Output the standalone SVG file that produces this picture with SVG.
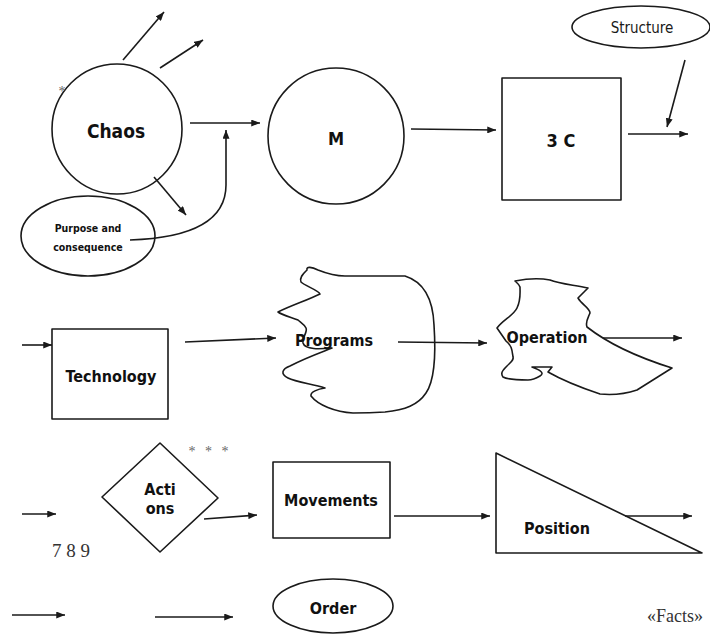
<svg xmlns="http://www.w3.org/2000/svg" width="710" height="634" viewBox="0 0 710 634">
<defs>
<marker id="ah" viewBox="0 0 10 8" refX="10" refY="4" markerWidth="9" markerHeight="7" markerUnits="userSpaceOnUse" orient="auto">
<path d="M0,0 L10,4 L0,8 Z" fill="#1a1a1a"/>
</marker>
<style>
.s{fill:none;stroke:#1a1a1a;stroke-width:1.6;stroke-linejoin:round}
.c{fill:none;stroke:#1a1a1a;stroke-width:1.6;marker-end:url(#ah)}
.b{font-family:"DejaVu Sans Condensed","DejaVu Sans",sans-serif;font-stretch:condensed;font-weight:bold;fill:#111;text-anchor:middle;font-size:16px}
.r{font-family:"DejaVu Sans Condensed","DejaVu Sans",sans-serif;font-stretch:condensed;fill:#1a1a1a;text-anchor:middle;font-size:15px}
.sf{font-family:"Liberation Serif",serif;fill:#333}
.g{font-family:"Liberation Serif",serif;fill:#666;font-size:14px}
</style>
</defs>
<g id="connectors">
<path class="c" d="M123,60 L164,12"/>
<path class="c" d="M160,68 L203,40"/>
<path class="c" d="M190,123 L260,123"/>
<path class="c" d="M154,177 L186,215"/>
<path class="c" d="M130,240 C190,238 226,222 226,185 L226,130"/>
<path class="c" d="M411,129 L496,130"/>
<path class="c" d="M685,60 L667,127"/>
<path class="c" d="M628,134 L688,134"/>
<path class="c" d="M22,345 L52,345"/>
<path class="c" d="M185,342 L276,338"/>
<path class="c" d="M398,342 L487,343"/>
<path class="c" d="M603,338 L682,338"/>
<path class="c" d="M22,514 L56,514"/>
<path class="c" d="M204,519 L257,515"/>
<path class="c" d="M394,516 L490,516"/>
<path class="c" d="M625,516 L692,516"/>
<path class="c" d="M12,615 L65,615"/>
<path class="c" d="M155,617 L233,617"/>
</g>
<g id="chaos">
<circle class="s" cx="117" cy="129" r="65"/>
<text class="b" x="116" y="138" style="font-size:19px">Chaos</text>
<text class="g" x="62" y="96" text-anchor="middle">*</text>
</g>
<g id="purpose">
<ellipse class="s" cx="88" cy="236" rx="67" ry="40"/>
<text class="b" x="88" y="232" style="font-size:10.5px">Purpose and</text>
<text class="b" x="88" y="251" style="font-size:10.5px">consequence</text>
</g>
<g id="m">
<circle class="s" cx="336" cy="136" r="68"/>
<text class="b" x="336" y="145" style="font-size:18px">M</text>
</g>
<g id="c3">
<rect class="s" x="502" y="78" width="119" height="122"/>
<text class="b" x="561" y="147" style="font-size:18px">3 C</text>
</g>
<g id="structure">
<ellipse class="s" cx="641" cy="27" rx="69" ry="21"/>
<text class="r" x="642" y="33">Structure</text>
</g>
<g id="technology">
<rect class="s" x="52" y="329" width="116" height="90"/>
<text class="b" x="111" y="382">Technology</text>
</g>
<g id="programs">
<path class="s" d="M307,270 C306,266 312,267 318,270 C328,274 335,276 345,276 L405,276 C424,282 433,300 434,325 C436,355 435,380 426,393 C418,405 405,410 385,412 C370,413 360,413 353,413 C335,412 318,405 311,396 C310,392 318,389 325,388 C312,384 296,382 288,378 C280,374 282,369 290,366 C305,358 322,352 332,348 C320,349 305,350 303,343 C302,337 308,332 306,328 C304,324 300,322 298,320 C290,317 282,315 278,312 C292,305 308,300 320,294 C318,290 305,286 301,282 C299,277 304,273 307,270 Z"/>
<text class="b" x="334" y="346">Programs</text>
</g>
<g id="operation">
<path class="s" d="M515,281 C525,279 540,278 550,280 C560,284 575,285 588,288 L578,298 C582,305 590,308 590,313 C588,318 585,322 587,327 C610,345 640,358 672,368 L637,390 C625,394 610,395 600,394 C582,388 562,380 548,372 L552,367 L532,367 C540,370 545,373 540,376 C535,379 532,380 528,380 C518,380 508,380 503,377 C500,373 503,370 507,366 C511,362 514,360 513,357 C512,350 512,346 506,341 L497,328 C503,320 514,315 517,308 C521,300 520,293 520,287 C519,284 516,282 515,281 Z"/>
<text class="b" x="547" y="343">Operation</text>
</g>
<g id="actions">
<path class="s" d="M160,443 L218,498 L160,552 L102,497 Z"/>
<text class="b" x="160" y="495">Acti</text>
<text class="b" x="160" y="514">ons</text>
<text class="g" x="210" y="456" text-anchor="middle" letter-spacing="3">* * *</text>
</g>
<g id="label789">
<text class="sf" x="52" y="557" style="font-size:19px">7 8 9</text>
</g>
<g id="movements">
<rect class="s" x="273" y="462" width="117" height="76"/>
<text class="b" x="331" y="506">Movements</text>
</g>
<g id="position">
<path class="s" d="M496,453 L702,553 L496,553 Z"/>
<text class="b" x="557" y="534">Position</text>
</g>
<g id="order">
<ellipse class="s" cx="333" cy="606" rx="60" ry="27"/>
<text class="b" x="333" y="614">Order</text>
</g>
<g id="facts">
<text class="sf" x="647" y="622" style="font-size:18px">«Facts»</text>
</g>
</svg>
